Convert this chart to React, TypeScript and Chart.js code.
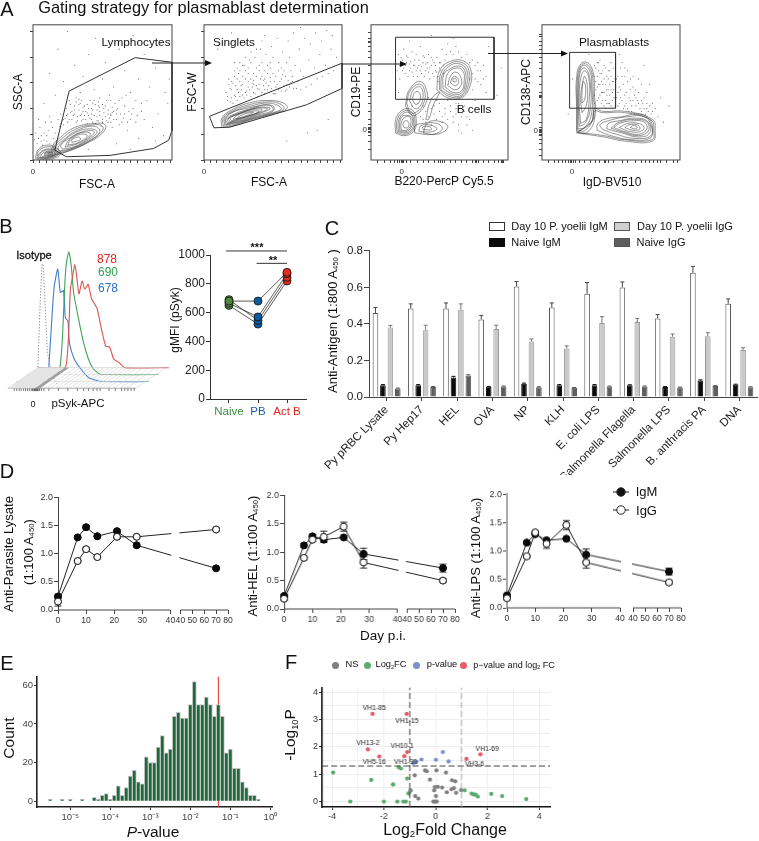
import React, { useEffect, useRef } from "react";
import { Chart, registerables } from "chart.js";
Chart.register(...registerables);

const FONT = '"Liberation Sans", Arial, sans-serif';
Chart.defaults.font.family = FONT;
Chart.defaults.color = "#333";

// ---------- Panel A: gates (percent of axis) ----------
const gateLymph = [15.7,7.3, 26,51, 73.5,75.7, 100,72.3, 100,21.8, 97.6,14.6, 86.7,8.5, 55.4,3.4, 24,2.4, 15.7,7.3];
const gateSinglet = [3.9,32.3, 100,71.6, 100,52.9, 74.2,40.8, 18.8,24.3, 7.2,23.8, 3.9,32.3];
const gateB = [17.9,90.8, 89.8,90.8, 89.8,44.9, 17.9,44.9, 17.9,90.8];
const gatePB = [20,79.6, 53.3,79.6, 53.3,38.3, 20,38.3, 20,79.6];

const dots1 = [6,14,8,20,5,24,4,30,9,28,12,32,10,18,14,24,7,11,3,12,16,20,18,30,20,34,22,26,24,38,26,30,28,36,30,40,32,32,34,42,36,36,38,30,40,38,42,34,44,44,46,32,48,36,50,30,52,40,54,34,56,28,58,36,60,30,62,26,59,42,63,34,66,40,70,30,72,38,68,22,74,28,78,36,82,44,86,24,90,34,94,18,97,42,27,41,29,33,31,28,33,37,35,29,37,33,39,27,41,31,43,37,45,27,47,29,49,25,51,35,53,29,55,31,57,24,23,31,25,28,21,29,19,25,12,64,18,82,25,95,30,70,36,62,40,78,45,90,50,60,52,72,58,54,62,82,66,66,70,50,72,92,76,60,80,78,84,54,88,68,92,86,95,50,98,60,22,58,16,48,8,42,28,52,34,50,44,52,48,46,55,48,64,46,74,44,80,30,88,14,60,12,70,8,76,16,40,8,33,45,37,40,41,44,47,40,53,44,57,39,61,38,65,31,31,46,26,44,24,33,35,34,39,35,43,28,46,37,50,41,56,34,60,34,64,28,69,36,
 28,30,30,34,32,29,34,33,36,30,38,36,40,33,42,30,44,33,46,29,48,33,50,28,52,32,54,28,56,33,58,30,30,37,33,41,36,39,39,41,42,38,45,41,48,39,51,38,54,37,57,35,60,37,47,43,43,42,35,44,31,43,27,35,25,34,22,30,20,27,11,22,13,28,15,16,6,18,4,16,8,15,2,20,1,15,10,14,12,12,17,14,66,34,68,28,71,34,75,33,62,44,56,44,67,48,78,42];
const dots2 = [16,50,18,56,20,46,22,62,24,52,26,58,28,48,30,66,32,54,34,60,36,50,38,68,40,56,42,62,44,52,46,70,48,58,50,64,52,54,54,72,56,60,58,66,60,56,62,76,64,62,66,70,68,58,70,66,72,62,76,74,80,68,84,78,88,70,92,82,96,76,17,44,21,42,25,64,29,70,33,74,37,76,41,82,45,78,49,84,53,90,57,80,61,88,65,94,69,82,73,90,77,86,81,94,85,88,89,96,93,92,19,53,23,47,27,55,31,51,35,57,39,53,43,59,47,55,51,49,55,53,59,51,63,57,67,53,24,68,28,62,32,68,36,64,40,70,44,66,48,72,52,62,56,68,60,72,22,72,18,60,70,52,74,54,78,56,82,60,86,62,90,64,94,66,70,98,44,92,30,86,20,94,10,82,82,22,90,30,60,14,75,20,
 17,47,19,43,20,52,21,57,22,48,23,55,24,44,25,50,26,47,27,52,28,56,29,46,30,50,31,48,32,58,33,52,34,47,35,54,36,59,37,49,38,55,39,47,40,52,41,60,42,50,43,55,44,49,45,57,46,52,47,50,48,61,49,53,50,49,51,58,52,49,53,56,54,52,55,58,56,51,57,63,58,55,59,62,60,52,61,59,62,54,63,66,64,58,65,53,20,58,22,66,24,60,26,66,28,70,30,60,32,64,34,72,36,56,38,62,40,66,42,72,44,60,46,64,48,68,34,80,38,82,30,76,26,72,50,76,54,66,42,88];
const dots3 = [20,78,22,70,24,82,26,72,28,66,30,80,32,74,34,68,36,84,38,72,40,66,42,78,44,70,46,62,48,76,50,68,52,82,54,74,56,86,58,80,60,78,62,84,64,80,66,76,70,78,72,72,74,64,76,70,78,58,80,66,82,60,84,50,19,66,21,60,23,74,25,64,27,76,29,68,31,62,33,78,35,70,37,64,39,76,41,68,43,60,45,74,47,66,49,58,51,72,53,64,55,78,18,56,20,50,38,40,40,36,42,32,44,38,46,34,48,30,50,36,52,32,54,38,56,30,58,36,60,28,62,34,64,26,66,32,34,42,36,32,30,40,68,40,72,30,76,44,62,42,56,44,48,44,42,46,60,90,44,92,28,88,86,84,95,68,92,48,74,22,70,26,66,20,
 21,70,23,66,25,70,27,62,29,73,31,70,33,66,35,74,37,69,39,62,41,72,43,68,45,64,47,70,49,62,51,66,53,70,22,76,24,68,26,77,28,71,30,65,32,70,34,62,36,66,38,77,40,71,42,65,44,76,46,72,48,65,50,72,72,60,74,52,76,60,78,66,80,56,74,74,78,72,82,70,84,62,38,30,40,28,44,26,46,40,50,42,52,28,54,34,58,40,60,32,62,38,64,42,68,36,70,32,64,22];
const dots4 = [38,70,40,62,42,74,44,56,46,68,48,60,50,72,52,52,39,52,41,46,43,64,45,50,47,42,49,66,51,58,53,46,38,42,40,54,42,48,44,66,46,44,48,52,50,62,52,68,41,72,43,58,45,40,47,62,49,48,51,44,54,60,56,54,58,62,60,48,62,58,64,44,66,54,68,40,70,50,72,36,74,46,76,38,78,56,80,42,55,40,57,46,59,38,61,42,63,36,65,40,67,34,69,44,71,38,73,42,75,34,77,36,79,34,82,38,84,32,92,40,60,68,66,62,58,72,70,60,56,78,86,46,88,28,34,78,44,84,74,70,50,84,20,48,22,60,19,34,
 38,48,39,58,40,44,41,66,42,56,43,42,44,50,45,60,46,38,47,52,48,42,49,56,50,40,51,50,52,46,53,60,38,62,39,68,40,72,41,56,42,64,43,50,44,44,45,70,46,56,47,48,48,66,49,42,50,52,51,38,52,58,53,40,54,46,55,50,56,42,57,52,58,44,59,56,60,40,61,50,62,38,63,46,64,52,65,36,66,44,67,48,68,46,70,42,72,44,74,38,76,42,78,40,80,36,55,62,57,68,60,62,62,66,64,60,68,52,72,56,76,50];

// contours, percent of axis, closed rings
const rings1 = [
 [14,3,24,6,38,12,50,20,52,26,44,27,30,24,20,17,14,10],[16,4,26,7,39,13,49,20.5,50,25,43,26,31,23,21,16,15,9.5],[17,5,27,8,40,14,48,21,44,25,32,22,22,15,16,9],[19,6.5,29,9,40,15,46,21,40,23,30,20,21,13,18,9],[21,8,30,10,40,16,44,21,36,21,26,16,20,11],[23,9.5,32,12,40,17,41,20,34,20,26,15],[25,11,33,13,39,18,34,19,27,15],[28,13,34,15,33,17,28,15],
 [2,1,8,0.5,16,1.5,20,5,17,9,10,11,4,8,2,3],[3,1.5,9,1,16,2.5,19,5.5,15,9,9,9.5,4,6.5],[4,2,10,1.5,16,3,18,6,14,8,8,7.5,4,4],[5.5,2,11,2,16,4,16,6.5,12,7.5,7,6.5,5,4],[7,2.5,12,2.5,16,4.5,14,6.5,9,6,6,4],[8,3,13,3,15,4.8,13,6,9,5.5],[9,3.5,13,3.5,14.5,5,12,5.5,9,5],[10,3.7,13,3.8,13.5,5,11.5,5.2,10,4.8],[11,4,13,4.2,12.5,5,11,4.8],
];
const rings2 = [
 [13,24,20,25,35,30,50,34,60,38,58,42,46,44,32,42,20,37,13,31],[14,25,21,26,35,30.5,50,34.5,58,38,54,42,46,43,33,41,21,36.5,14,31],[15,26,22,27,36,31,50,35,56,38,48,42,34,40,22,36,15,31],[16,26.5,24,28,37,32,50,36,50,40,40,40,30,38,20,35,15.5,30],[17,27,26,29,38,33,50,37,46,41,34,38,22,34,16,30],[18,27.5,27,30,39,34,48,38,40,39,30,36,22,33,17,30],[19,28,28,31,40,35,46,38,36,38,24,34,18,31],[20,29,29,31.5,40,35.5,42,37.5,34,37,24,33.5,19,31],[21,30,30,32,40,36,34,36,24,33],[23,30.5,31,33,36,35.5,28,33.5],
];
const rings3 = [
 [48,52,56,46,66,46,72,54,73,66,68,73,58,73,50,66],[50,52,57,47,66,47,71,55,71.5,66,66.5,72,58,71.5,51,64],[51,52,58,48,66,48,70,56,70,66,65,71,58,70,52,63],[52.5,53,59,49,66,49.5,69,57,68.5,66,64,69.5,57,67,53,63],[54,54,60,50,66,51,68,58,67,66,62,68,56,64],[56,55,61,52,65,54,66,60,62,65,58,62],[58,57,62,55,64,59,61,62,59,60],[60,58,62,58,62,60,60,60],
 [18,20,24,18,31,21,33,30,30,37,23,37,18,30],[19,20.5,24.5,19,30.5,22,32,30,29,36,23,35.5,19,29],[20,21,25,20,30,23,31,30,28,35,23,34,20,28],[21,21.5,25.5,21,29.5,24.5,30,31,26,33,22.5,32,21,27.5],[22,22,26,22,29,26,28,32,24,31,22,27],[24,24,27,24,27.5,28,25,29,23.5,27],
 [32,20,45,19,52,23,48,27,38,27,32,25],[35,21,45,21,48,23.5,42,26,36,25],[38,22.5,44,22.5,43,24.5,38,24.5],[38,20,48,19,56,24,52,28,42,28],
 [25,40,28,52,36,58,41,50,40,42,35,35,30,33],[26,42,29,52,36,56,39.5,49,38,41,34,36,29,35],[28,44,31,52,36,54,38,48,36,40,32,38],[30,45,32,50,35,50,36,45,33,41],[40,30,44,45,50,50,46,42,42,30],
];
const rings4 = [
 [25,21,32,20,38,30,38,50,37,65,33,72,28,71,25,60,25,40],[25.5,22,31.5,22,37,32,37,52,36,65,32,71,28,69.5,25.5,58,25.5,38],[26,23,31,24,36,35,36,55,35,65,31,70,28,68,26,55,26,35],[27,25,31,27,35,38,35,57,33,66,30,68,27.5,64,26.5,50,26.5,36],[28,27,32,30,34,42,34,60,31,66,28,60,27,42],[29,35,32,40,33,52,31,62,29,55,28,45],[29,42,31,45,31.5,55,30,58,29,50],
 [40,22,50,18,65,15,78,16,80,22,78,30,70,34,58,32,45,30,40,26],[44,22.5,54,19,67,16,79,18,79,26,74,32,62,32,48,29,42,26],[47,23,58,20,70,17,78,20,77,28,68,31,56,29,48,27],[50,23.5,59,20.5,70,18,77,21.5,76,28,67,30,56,28],[52,24,60,21,70,19,76,23,74,28,66,29,56,27],[56,24,64,21,71,21,74,24,70,27,62,27],[60,24,66,22,71,23,69,26,63,26],[64,24,68,23,69,24.5,66,25.5],
 [25,20,45,17,60,14,80,14,82,22,80,30,60,36,44,36,38,38,37,30],[26,20.5,45,18,60,15,79.5,15,81,22,79,29.5,60,35,44,35,38,36,36,28],
];
const linTicks = [0,4.7,9.4,14.1,18.8,23.5,28.2,32.9,37.6,42.3,47,51.7,56.4,61.1,65.8,70.5,75.2,79.9,84.6,89.3,94,98.7];
const linMajorY = [0,19,38,57,76,95];
const logX3 = [5,10,14,17,19,21,22,22.5,23,24,26,29,34,38,42,46,49,51,52.5,54,58,62,66,70,74,76,77,78.5,82,86,90,93,95,96,97];
const logY3 = [8,14,18,20,21,22.3,23,24,26,30,36,42,47,50,52,53,54,58,64,70,76,80,84,87,88,90,94];
const logX4 = [5,9,12,15,17,19,20.5,21.7,22.5,24,27,31,35,39,42,45,46,48,52,58,62,68,72,75,78,81,84,86,90,95,98];
const logY4 = [3,8,12,15,18,19,20,21,21.8,22.5,24,28,34,40,46,47,48,50,56,62,68,72,76,79,82,85,88,91,93];

// ---------- Panel B ----------
const redX = [105,190,196,202,208,215,222,228,235,245,254,264,275,292,305,320,332,345,360,380,520];
const redY = [497,497,480,400,250,210,173,210,265,225,250,235,280,310,370,430,432,470,480,497,497];
const greenX = [72,165,175,183,190,195,203,210,218,235,250,265,280,300,320,487];
const greenY = [519,519,495,400,240,170,133,170,260,350,420,470,500,517,519,519];
const blueX = [38,135,140,150,157,168,176,186,192,200,205,220,240,265,300,456];
const blueY = [541,541,490,330,240,187,260,255,340,350,420,470,500,528,540,541];
const isoX = [95,105,112,118,122,128,135,150,165];
const isoY = [562,500,300,172,172,300,450,520,548];
const rulerTicks = [30,38,46,52,60,66,72,78,84,88,92,94,96,98,100,102,104,106,110,116,124,140,170,200,230,250,265,280,292,302,330,350,370,380,390,400,410];
const floorFront = [10,24,38,52,66,80,130,145,160,175,190,205,220,235,250,265,280,295,310,325,345,365,385,415];

const gmfiCats = ["Naive", "PB", "Act B"];
const gmfiMice = [[680,680,880],[665,570,870],[690,545,845],[650,520,820]];
const gmfiCatColors = ["#3f8f45","#1a5fa8","#e2261c"];
const gmfiPointColors = ["#4f8a3c","#0f5a9c","#e8291f"];
const gmfiTicks = [0,200,400,600,800,1000];

// ---------- Panel C ----------
const antigens = ["Py pRBC Lysate","Py Hep17","HEL","OVA","NP","KLH","E. coli LPS","Salmonella Flagella","Salmonella LPS","B. anthracis PA","DNA"];
const d10IgM = [.46,.485,.485,.425,.605,.49,.565,.6,.43,.68,.51];
const d10IgMTop = [.49,.51,.515,.447,.632,.515,.627,.63,.452,.715,.537];
const naiveIgM = [.065,.065,.107,.056,.072,.065,.065,.064,.055,.09,.068];
const naiveIgMTop = [.068,.068,.113,.058,.076,.068,.068,.067,.057,.094,.07];
const d10IgG = [.38,.365,.478,.372,.304,.265,.405,.41,.33,.333,.258];
const d10IgGTop = [.392,.393,.51,.393,.318,.28,.44,.43,.345,.352,.27];
const naiveIgG = [.047,.055,.118,.058,.054,.05,.058,.058,.052,.06,.054];
const naiveIgGTop = [.049,.057,.122,.06,.056,.052,.06,.06,.054,.062,.056];

// ---------- Panel D ----------
const days = [0,7,10,14,21,28,70];
const dayTicks = [0,10,20,30,40,40,50,60,70,80];
const lysIgM = [.24,1.29,1.47,1.31,1.40,1.15,.74];
const lysIgG = [.15,.87,1.08,.94,1.30,1.30,1.43];
const lysErrM = [.03,.03,.03,.03,.02,.03,.02];
const lysErrG = [.08,.03,.03,.03,.03,.02,.02];
const helIgM = [.23,1.12,1.28,1.22,1.26,.97,.72];
const helIgG = [.18,.9,1.22,1.27,1.45,.82,.5];
const helErrM = [.03,.03,.03,.04,.02,.1,.07];
const helErrG = [.03,.03,.03,.1,.08,.1,.03];
const lpsIgM = [.22,1.15,1.30,1.19,1.22,.94,.64];
const lpsIgG = [.17,.91,1.33,1.13,1.46,.80,.45];
const lpsErrM = [.03,.02,.03,.03,.02,.1,.06];
const lpsErrG = [.03,.03,.03,.08,.08,.1,.03];

// ---------- Panel E ----------
const binExp = [-5.5,-5.4,-5.3,-5.2,-5.1,-5,-4.9,-4.8,-4.7,-4.6,-4.5,-4.4,-4.3,-4.2,-4.1,-4,-3.9,-3.8,-3.7,-3.6,-3.5,-3.4,-3.3,-3.2,-3.1,-3,-2.9,-2.8,-2.7,-2.6,-2.5,-2.4,-2.3,-2.2,-2.1,-2,-1.9,-1.8,-1.7,-1.6,-1.5,-1.4,-1.3,-1.2,-1.1,-1,-.9,-.8,-.7,-.6,-.5,-.4,-.3];
const binCount = [1,0,0,1,0,1,0,0,1,0,0,2,1,3,4,1,3,8,3,7,13,16,10,9,23,20,20,28,34,25,27,44,46,43,43,50,62,50,50,54,50,44,50,44,25,27,17,17,10,7,3,3,1];
const expTicks = [-5,-4,-3,-2,-1,0];
const expLabels = ["10⁻⁵","10⁻⁴","10⁻³","10⁻²","10⁻¹","10⁰"];
const cutoffExp = -1.3;

// ---------- Panel F ----------
const fcRed = [-2.44,-1.12,-2.62,-1.1,-2.18,-1.21,1.73,1.19];
const pRed = [3.21,3.21,1.91,1.81,1.65,1.66,1.73,1.56];
const fcBlue = [.28,-.55,.01,.5,-.86,-.75];
const pBlue = [1.81,1.54,1.53,1.47,1.41,1.45];
const fcGreen = [-3.96,-2.49,-1.42,-1.34,-1.1,-1.65,-1.64,-1.05,-1.03,-.97,-3.3,-2,-1.48,-1.25,-1.15,1.12,1.39,1.46,1.55,1.63,2.15,2.57,3.5];
const pGreen = [1.06,.79,1.25,1.21,.84,.62,.63,.29,.31,.41,0,0,0,0,0,.41,.29,.26,.25,.18,.28,.2,.09];
const fcGrey = [-.81,-.41,-.34,-.22,.03,.4,.63,.76,-.97,-.79,-.67,-.06,-.03,.08,.25,.43,.61,.7,.79,.98,.01,-.09,-.03,.04];
const pGrey = [.96,1.14,1.11,.8,1.14,1.06,.78,.74,.4,.2,.11,.41,.53,.54,.51,.34,.45,.49,.32,.42,.2,0,0,0];
const geneNames = ["VH1-85","VH1-15","VH13-2","VH10-1","VH5-16","VH1-39","VH1-69","VH3-6"];
const geneX = [-2.37,-1.11,-2.61,-1.29,-2.37,-1.16,1.99,1.5];
const geneY = [3.42,2.96,2.14,2.04,1.44,1.46,1.91,1.38];

// ---------- helpers ----------
const pairs = (a: number[]) => { const o: any[] = []; for (let i = 0; i < a.length; i += 2) o.push({ x: a[i], y: a[i + 1] }); return o; };
const zip = (x: number[], y: number[]) => x.map((v, i) => ({ x: v, y: y[i] }));
const listTicks = (list: number[]) => (s: any) => { s.ticks = list.map((value) => ({ value })); };

function ChartBox({ rect, m, build }: any) {
  const ref = useRef<HTMLCanvasElement>(null);
  const w = rect[2] - rect[0] + m.l + m.r;
  const h = rect[3] - rect[1] + m.t + m.b;
  useEffect(() => {
    const c = new Chart(ref.current as any, build());
    return () => c.destroy();
  }, []);
  return <canvas ref={ref} width={w} height={h} style={{ position: "absolute", left: rect[0] - m.l, top: rect[1] - m.t, width: w, height: h }} />;
}
const base = (m: any, extra: any) => ({
  responsive: false, animation: false, devicePixelRatio: 1,
  layout: { padding: { top: m.t, right: m.r, left: 0, bottom: 0 } },
  plugins: { legend: { display: false }, tooltip: { enabled: false } },
  ...extra,
});
const fitX = (m: any) => (s: any) => { s.height = m.b; };
const fitY = (m: any) => (s: any) => { s.width = m.l; };

function T({ x, y, size = 12, rot = 0, color = "#111", weight = "normal", style, children }: any) {
  return <div style={{ position: "absolute", left: x, top: y, fontSize: size, color, fontWeight: weight, fontFamily: FONT, whiteSpace: "nowrap", lineHeight: 1, transform: `translate(-50%,-50%) rotate(${rot}deg)`, ...style }}>{children}</div>;
}
const Sub = ({ children }: any) => <span style={{ fontSize: "0.6em", verticalAlign: "-0.25em", lineHeight: 0 }}>{children}</span>;

const framePlugin = { id: "frame", afterDraw(c: any) { const a = c.chartArea, g = c.ctx; g.save(); g.strokeStyle = "#444"; g.lineWidth = 1; g.strokeRect(a.left, a.top, a.right - a.left, a.bottom - a.top); g.restore(); } };

function flowChart(m: any, gate: number[], dots: number[], rings: number[][], xT: number[], yT: number[], xZero: number | null, yZero: number | null) {
  return () => ({
    type: "scatter",
    data: { datasets: [
      { data: pairs(dots), pointRadius: 0.55, pointBackgroundColor: "rgba(60,60,60,.8)", pointBorderWidth: 0, showLine: false },
      ...rings.map((r) => { const p = pairs(r); p.push(p[0]); return { data: p, showLine: true, pointRadius: 0, borderColor: "rgba(55,55,55,.7)", borderWidth: 0.75, tension: 0.45 }; }),
      { data: pairs(gate), showLine: true, pointRadius: 0, borderColor: "#333", borderWidth: 1, clip: false },
    ] },
    options: base(m, { scales: {
      x: { type: "linear", min: 0, max: 100, afterFit: fitX(m), afterBuildTicks: listTicks(xT), border: { display: false }, grid: { drawOnChartArea: false, tickLength: 3, color: "#444" },
        ticks: { autoSkip: false, maxRotation: 0, padding: 4, font: { size: 8 }, callback: (v: number) => (v === xZero ? "0" : "") } },
      y: { type: "linear", min: 0, max: 100, afterFit: fitY(m), afterBuildTicks: listTicks(yT), border: { display: false }, grid: { drawOnChartArea: false, tickLength: 3, color: "#444" },
        ticks: { autoSkip: false, padding: 1, font: { size: 8 }, callback: (v: number) => (v === yZero ? "0" : "") } },
    } }),
    plugins: [framePlugin],
  });
}

function histChart() {
  const m = { l: 0, r: 0, t: 0, b: 0 };
  const line = (x: number[], y: number[], color: string, w = 1, dash?: number[], tension = 0) => ({ data: zip(x, y), showLine: true, pointRadius: 0, borderColor: color, borderWidth: w, borderDash: dash, clip: false, tension });
  const poly = (x: number[], y: number[], color: string) => ({ data: zip(x, y), showLine: true, pointRadius: 0, borderWidth: 0, backgroundColor: color, fill: "shape" });
  const oblique = floorFront.map((f) => line([f, f + 95], [562, 497], "#c9c9c9", 0.5));
  const rails = [line([10, 415], [562, 562], "#888", 0.7), line([105, 520], [497, 497], "#ccc", 0.6), line([72, 487], [519, 519], "#ddd", 0.6), line([38, 456], [541, 541], "#ddd", 0.6)];
  return {
    type: "scatter",
    data: { datasets: [
      poly([10, 95, 190, 105, 10], [562, 562, 497, 497, 562], "#e4e4e4"),
      poly([95, 112, 205, 190, 95], [562, 562, 497, 497, 562], "#a0a0a0"),
      ...oblique, ...rails,
      line(isoX, isoY, "#999", 1, [1.5, 1.5]),
      line(redX, redY, "#d9534f", 1.1, undefined, 0.2),
      line(greenX, greenY, "#3fa35a", 1.1, undefined, 0.2),
      line(blueX, blueY, "#3f7fc9", 1.1, undefined, 0.2),
      { data: rulerTicks.map((x) => ({ x, y: 566 })), pointStyle: "line", pointRotation: 90, pointRadius: 1.6, pointBorderColor: "#444", pointBorderWidth: 0.7, showLine: false, clip: false },
    ] },
    options: base(m, { scales: { x: { display: false, type: "linear", min: 0, max: 540 }, y: { display: false, type: "linear", min: 0, max: 600, reverse: true } } }),
  };
}

function gmfiChart(m: any) {
  return () => ({
    type: "scatter",
    data: { datasets: [
      ...gmfiMice.map((mouse) => ({ data: mouse.map((y, i) => ({ x: i, y })), showLine: true, clip: false, borderColor: "#333", borderWidth: 0.8, pointRadius: 4, pointBorderColor: "#111", pointBorderWidth: 0.8, pointBackgroundColor: gmfiPointColors })),
      { data: [{ x: -0.1, y: 1028 }, { x: 2, y: 1028 }], showLine: true, clip: false, pointRadius: 0, borderColor: "#333", borderWidth: 1 },
      { data: [{ x: 0.95, y: 942 }, { x: 2, y: 942 }], showLine: true, clip: false, pointRadius: 0, borderColor: "#333", borderWidth: 1 },
    ] },
    options: base(m, { scales: {
      x: { type: "linear", min: -0.655, max: 2.655, afterFit: fitX(m), afterBuildTicks: listTicks([0, 1, 2]), border: { color: "#333" }, grid: { drawOnChartArea: false, tickLength: 4, color: "#333" },
        ticks: { autoSkip: false, padding: 2, font: { size: 11.5 }, color: (c: any) => gmfiCatColors[c.index], callback: (_: any, i: number) => gmfiCats[i] } },
      y: { type: "linear", min: 0, max: 1000, afterFit: fitY(m), afterBuildTicks: listTicks(gmfiTicks), border: { color: "#333" }, grid: { drawOnChartArea: false, tickLength: 4, color: "#333" },
        ticks: { autoSkip: false, padding: 1, font: { size: 12 }, color: "#222", callback: (v: number) => String(v) } },
    } }),
  });
}

const barErr = { id: "barErr", afterDatasetsDraw(c: any) {
  const g = c.ctx; g.save(); g.lineWidth = 1;
  c.data.datasets.forEach((d: any, i: number) => {
    g.strokeStyle = d.errColor;
    c.getDatasetMeta(i).data.forEach((el: any, j: number) => {
      const top = c.scales.y.getPixelForValue(d.errTop[j]);
      g.beginPath(); g.moveTo(el.x, el.y); g.lineTo(el.x, top); g.moveTo(el.x - 2, top); g.lineTo(el.x + 2, top); g.stroke();
    });
  });
  g.restore();
} };

function barChart(m: any) {
  const s = (data: number[], errTop: number[], bg: string, bc: string, errColor: string) => ({ data, errTop, errColor, backgroundColor: bg, borderColor: bc, borderWidth: 1, categoryPercentage: 0.845, barPercentage: 0.75 });
  return () => ({
    type: "bar",
    data: { labels: antigens, datasets: [
      s(d10IgM, d10IgMTop, "#fff", "#555", "#444"),
      s(naiveIgM, naiveIgMTop, "#0a0a0a", "#0a0a0a", "#111"),
      s(d10IgG, d10IgGTop, "#c9c9c9", "#999", "#777"),
      s(naiveIgG, naiveIgGTop, "#5e5e5e", "#555", "#555"),
    ] },
    options: base(m, { scales: {
      x: { afterFit: fitX(m), border: { color: "#444" }, grid: { drawOnChartArea: false, offset: false, tickLength: 4, color: "#444" },
        ticks: { autoSkip: false, minRotation: 45, maxRotation: 45, padding: 2, font: { size: 11.6 }, color: "#222" } },
      y: { min: 0, max: 0.8, afterFit: fitY(m), afterBuildTicks: listTicks([0, .2, .4, .6, .8]), border: { color: "#444" }, grid: { drawOnChartArea: false, tickLength: 5, color: "#444" },
        ticks: { autoSkip: false, padding: 1, font: { size: 11.5 }, color: "#222", callback: (v: number) => v.toFixed(1) } },
    } }),
    plugins: [barErr],
  });
}

function timeChart(m: any, igm: number[], igg: number[], eM: number[], eG: number[], gapU: number, yColor = "#444", yWidth = 1) {
  const u = (d: number) => (d <= 40 ? d : gapU + (d - 40) * 0.4237);
  const uMax = u(80);
  const tickU = dayTicks.map((d, i) => (i <= 4 ? d : u(d)));
  tickU[5] = gapU;
  const breakPlugin = { id: "brk", afterDatasetsDraw(c: any) {
    const g = c.ctx, xs = c.scales.x, ys = c.scales.y;
    const a = xs.getPixelForValue(40) + 1, b = xs.getPixelForValue(gapU) - 1;
    g.save(); g.fillStyle = "#fff"; g.fillRect(a, ys.getPixelForValue(2) - 4, b - a, ys.getPixelForValue(0) - ys.getPixelForValue(2) + 3); g.restore();
    [[igm, eM], [igg, eG]].forEach(([v, e]: any) => {
      g.save(); g.strokeStyle = "#111"; g.lineWidth = 0.9;
      days.forEach((d, j) => { const x = xs.getPixelForValue(u(d)), t = ys.getPixelForValue(v[j] + e[j]), l = ys.getPixelForValue(v[j] - e[j]);
        g.beginPath(); g.moveTo(x, t); g.lineTo(x, l); g.moveTo(x - 3.5, t); g.lineTo(x + 3.5, t); g.moveTo(x - 3.5, l); g.lineTo(x + 3.5, l); g.stroke(); });
      g.restore();
    });
    [1, 0].forEach((i) => c.getDatasetMeta(i).data.forEach((p: any) => p.draw(g)));
  } };
  const ser = (v: number[], fill: string) => ({ data: days.map((d, i) => ({ x: u(d), y: v[i] })), showLine: true, clip: false, borderColor: "#222", borderWidth: 1, pointRadius: 3.4, pointBorderColor: "#111", pointBorderWidth: 0.9, pointBackgroundColor: fill });
  const ax = (a: number, b: number) => ({ data: [{ x: a, y: 0 }, { x: b, y: 0 }], showLine: true, clip: false, pointRadius: 0, borderColor: "#444", borderWidth: 1 });
  return () => ({
    type: "scatter",
    data: { datasets: [ser(igg, "#fff"), ser(igm, "#0a0a0a"), ax(0, 40), ax(gapU, uMax)] },
    options: base(m, { scales: {
      x: { type: "linear", min: 0, max: uMax, afterFit: fitX(m), afterBuildTicks: listTicks(tickU), border: { display: false }, grid: { drawOnChartArea: false, tickLength: 4, color: "#444" },
        ticks: { autoSkip: false, maxRotation: 0, padding: 1, font: { size: 8.6 }, color: "#333", callback: (_: any, i: number) => String(dayTicks[i]) } },
      y: { type: "linear", min: 0, max: 2, afterFit: fitY(m), afterBuildTicks: listTicks([0, .5, 1, 1.5, 2]), border: { color: yColor, width: yWidth }, grid: { drawOnChartArea: false, tickLength: 4, color: "#444" },
        ticks: { autoSkip: false, padding: 1, font: { size: 9 }, color: "#333", callback: (v: number) => v.toFixed(1) } },
    } }),
    plugins: [breakPlugin],
  });
}

function pvalChart(m: any) {
  return () => ({
    type: "bar",
    data: { datasets: [
      { data: zip(binExp, binCount), backgroundColor: "#1c6b3a", borderColor: "#c4c4c4", borderWidth: 1, barThickness: 4 },
      { type: "line", data: [{ x: cutoffExp, y: -3 }, { x: cutoffExp, y: 64.5 }], borderColor: "#e8262a", borderWidth: 1, pointRadius: 0, clip: false },
    ] },
    options: base(m, { scales: {
      x: { type: "linear", offset: false, min: -5.83, max: 0.04, afterFit: fitX(m), afterBuildTicks: listTicks(expTicks), border: { color: "#222", width: 1.6 }, grid: { offset: false, drawOnChartArea: false, tickLength: 3, color: "#333" },
        ticks: { autoSkip: false, maxRotation: 0, padding: 2, font: { size: 9.5 }, color: "#444", callback: (_: any, i: number) => expLabels[i] } },
      y: { type: "linear", min: -3, max: 64.5, afterFit: fitY(m), afterBuildTicks: listTicks([0, 20, 40, 60]), border: { color: "#222", width: 1.6 }, grid: { drawOnChartArea: false, tickLength: 3, color: "#333" },
        ticks: { autoSkip: false, padding: 1, font: { size: 9.5 }, color: "#444" } },
    } }),
  });
}

const geneLabels = { id: "gene", afterDatasetsDraw(c: any) {
  const g = c.ctx; g.save(); g.font = `6.8px ${FONT}`; g.fillStyle = "#222"; g.textAlign = "center"; g.textBaseline = "middle";
  geneNames.forEach((n, i) => g.fillText(n, c.scales.x.getPixelForValue(geneX[i]), c.scales.y.getPixelForValue(geneY[i])));
  g.restore();
} };

function volcanoChart(m: any) {
  const pts = (x: number[], y: number[], col: string) => ({ data: zip(x, y), showLine: false, pointRadius: 2.1, pointBackgroundColor: col, pointBorderWidth: 0, clip: false });
  const dash = (x0: number, y0: number, x1: number, y1: number, col: string) => ({ data: [{ x: x0, y: y0 }, { x: x1, y: y1 }], showLine: true, pointRadius: 0, borderColor: col, borderWidth: 1, borderDash: [6, 3] });
  return () => ({
    type: "scatter",
    data: { datasets: [
      dash(-1, -0.2, -1, 4.18, "#444"), dash(1, -0.2, 1, 4.18, "#aaa"), dash(-4.39, 1.3, 4.42, 1.3, "#444"),
      pts(fcGrey, pGrey, "#808080"), pts(fcGreen, pGreen, "#5cab70"), pts(fcBlue, pBlue, "#7a90cc"), pts(fcRed, pRed, "#e8596a"),
    ] },
    options: base(m, { scales: {
      x: { type: "linear", min: -4.39, max: 4.42, afterFit: fitX(m), afterBuildTicks: listTicks([-4, -3, -2, -1, 0, 1, 2, 3, 4]), border: { color: "#111", width: 1.6 },
        grid: { color: "#eeeeee", tickLength: 3, tickColor: (c: any) => (c.tick && c.tick.value % 2 === 0 ? "#333" : "transparent") },
        ticks: { autoSkip: false, maxRotation: 0, padding: 1, font: { size: 9 }, color: "#333", callback: (v: number) => (v % 2 === 0 ? String(v) : "") } },
      y: { type: "linear", min: -0.2, max: 4.18, afterFit: fitY(m), afterBuildTicks: listTicks([0, .5, 1, 1.5, 2, 2.5, 3, 3.5, 4]), border: { color: "#111", width: 1.6 },
        grid: { color: "#eeeeee", tickLength: 3, tickColor: (c: any) => (c.tick && Number.isInteger(c.tick.value) ? "#333" : "transparent") },
        ticks: { autoSkip: false, padding: 1, font: { size: 9 }, color: "#333", callback: (v: number) => (Number.isInteger(v) ? String(v) : "") } },
    } }),
    plugins: [geneLabels],
  });
}

const mFlow = { l: 14, r: 6, t: 4, b: 18 };
const mGmfi = { l: 35, r: 6, t: 14, b: 24 };
const mBar = { l: 49, r: 2, t: 4, b: 78 };
const mTime = { l: 24, r: 14, t: 6, b: 20 };
const mHist = { l: 0, r: 0, t: 0, b: 0 };
const mE = { l: 24, r: 14, t: 2, b: 20 };
const mF = { l: 18, r: 8, t: 2, b: 18 };

const Swatch = ({ x, y, bg, bc }: any) => <div style={{ position: "absolute", left: x, top: y, width: 14, height: 7, background: bg, border: `1px solid ${bc}` }} />;
const Dot = ({ x, y, c }: any) => <div style={{ position: "absolute", left: x - 3.5, top: y - 3.5, width: 7, height: 7, borderRadius: 4, background: c }} />;

export default function App() {
  return (
    <div style={{ position: "absolute", left: 0, top: 0, width: 759, height: 841, overflow: "hidden", background: "#fff" }}>
      <ChartBox rect={[33, 23, 172, 160]} m={mFlow} build={flowChart(mFlow, gateLymph, dots1, rings1, linTicks, linMajorY, 0, null)} />
      <ChartBox rect={[204, 23, 342, 160]} m={mFlow} build={flowChart(mFlow, gateSinglet, dots2, rings2, linTicks, linMajorY, 0, null)} />
      <ChartBox rect={[371, 23, 508, 160]} m={mFlow} build={flowChart(mFlow, gateB, dots3, rings3, logX3, logY3, 22.5, 22.3)} />
      <ChartBox rect={[542, 23, 680, 160]} m={mFlow} build={flowChart(mFlow, gatePB, dots4, rings4, logX4, logY4, 21.7, 21.8)} />

      <ChartBox rect={[0, 205, 180, 405]} m={mHist} build={histChart} />
      <ChartBox rect={[210, 255, 306, 399]} m={mGmfi} build={gmfiChart(mGmfi)} />
      <ChartBox rect={[369, 247, 757, 397]} m={mBar} build={barChart(mBar)} />

      <ChartBox rect={[58.3, 497, 228.3, 610]} m={mTime} build={timeChart(mTime, lysIgM, lysIgG, lysErrM, lysErrG, 43.56)} />
      <ChartBox rect={[284.3, 495, 455, 609]} m={mTime} build={timeChart(mTime, helIgM, helIgG, helErrM, helErrG, 43.3)} />
      <ChartBox rect={[506.7, 494.3, 680.7, 608.3]} m={mTime} build={timeChart(mTime, lpsIgM, lpsIgG, lpsErrM, lpsErrG, 44.6, "#aaa", 2)} />

      <ChartBox rect={[36.7, 671.7, 271.7, 806.7]} m={mE} build={pvalChart(mE)} />
      <ChartBox rect={[322.3, 683.3, 550, 807.3]} m={mF} build={volcanoChart(mF)} />

      <svg width={759} height={841} style={{ position: "absolute", left: 0, top: 0 }}>
        <g stroke="#222" strokeWidth={1} fill="#111">
          <line x1={152} y1={63} x2={208} y2={63} /><path d="M205,60 L212,63 L205,66 Z" stroke="none" />
          <line x1={342} y1={64} x2={403} y2={64} /><path d="M400,61 L407,64 L400,67 Z" stroke="none" />
          <line x1={488} y1={53.5} x2={564} y2={53.5} /><path d="M561,50.5 L568,53.5 L561,56.5 Z" stroke="none" />
          <line x1={613} y1={492} x2={629} y2={492} /><circle cx={621} cy={492} r={4.2} />
          <line x1={613} y1={510} x2={629} y2={510} /><circle cx={621} cy={510} r={4.2} fill="#fff" />
        </g>
      </svg>

      <T x={7} y={9} size={20}>A</T>
      <T x={203.5} y={7} size={16.4}>Gating strategy for plasmablast determination</T>
      <T x={6} y={226} size={20}>B</T>
      <T x={332} y={228} size={20}>C</T>
      <T x={7} y={471} size={20}>D</T>
      <T x={7} y={663} size={20}>E</T>
      <T x={291} y={662} size={20}>F</T>

      <T x={136} y={43} size={11.8}>Lymphocytes</T>
      <T x={234} y={43} size={11.8}>Singlets</T>
      <T x={474} y={110} size={11.8}>B cells</T>
      <T x={614} y={43} size={11.8}>Plasmablasts</T>
      <T x={18} y={92} rot={-90}>SSC-A</T>
      <T x={97} y={184}>FSC-A</T>
      <T x={192} y={92} rot={-90}>FSC-W</T>
      <T x={269} y={182}>FSC-A</T>
      <T x={356} y={92} rot={-90}>CD19-PE</T>
      <T x={444} y={181}>B220-PercP Cy5.5</T>
      <T x={526} y={92} rot={-90}>CD138-APC</T>
      <T x={612} y={182}>IgD-BV510</T>

      <T x={34} y={255} size={11} style={{ WebkitTextStroke: "0.3px #111" }}>Isotype</T>
      <T x={107} y={259} color="#e2261c">878</T>
      <T x={108} y={272} color="#2fa04f">690</T>
      <T x={108} y={288} color="#2a6fc0">678</T>
      <T x={33} y={404} size={9}>0</T>
      <T x={78} y={404} size={11.5}>pSyk-APC</T>
      <T x={175} y={320} rot={-90} size={12}>gMFI (pSyk)</T>
      <T x={257} y={247} size={11} weight="bold">***</T>
      <T x={273} y={260} size={11} weight="bold">**</T>

      <Swatch x={489} y={222} bg="#fff" bc="#333" />
      <T x={559.5} y={226} size={11}>Day 10 P. yoelii IgM</T>
      <Swatch x={614} y={222} bg="#cfcfcf" bc="#555" />
      <T x={685} y={226} size={11}>Day 10 P. yoelii IgG</T>
      <Swatch x={489} y={238} bg="#0a0a0a" bc="#0a0a0a" />
      <T x={536} y={242} size={11}>Naive IgM</T>
      <Swatch x={614} y={238} bg="#5e5e5e" bc="#555" />
      <T x={661} y={242} size={11}>Naive IgG</T>
      <T x={332} y={321} rot={-90} size={13}>Anti-Antigen (1:800 A<Sub>450</Sub> )</T>

      <T x={8} y={554} rot={-90} size={13}>Anti-Parasite Lysate</T>
      <T x={28} y={552} rot={-90} size={13}>(1:100 A<Sub>450</Sub>)</T>
      <T x={252} y={556} rot={-90} size={13}>Anti-HEL (1:100 A<Sub>450</Sub>)</T>
      <T x={475} y={558} rot={-90} size={13}>Anti-LPS (1:100 A<Sub>450</Sub>)</T>
      <T x={383} y={636} size={13.5}>Day p.i.</T>
      <T x={646.5} y={491} size={13}>IgM</T>
      <T x={646.5} y={510} size={13}>IgG</T>

      <T x={9} y={738} rot={-90} size={15.5}>Count</T>
      <T x={153} y={832} size={15.5}><i>P</i>-value</T>

      <Dot x={335.7} y={665} c="#808080" />
      <T x={352} y={665} size={9.3}>NS</T>
      <Dot x={367.7} y={665} c="#5cab70" />
      <T x={391} y={665} size={9.3}>Log<Sub>2</Sub>FC</T>
      <Dot x={416.7} y={665} c="#7a90cc" />
      <T x={442} y={665} size={9.3}>p-value</T>
      <Dot x={463} y={665} c="#e8596a" />
      <T x={514} y={665} size={9}>p−value and log<Sub>2</Sub> FC</T>
      <T x={290} y={735} rot={-90} size={15.5}>-Log<Sub>10</Sub>P</T>
      <T x={445} y={830} size={16}>Log<Sub>2</Sub>Fold Change</T>
    </div>
  );
}
